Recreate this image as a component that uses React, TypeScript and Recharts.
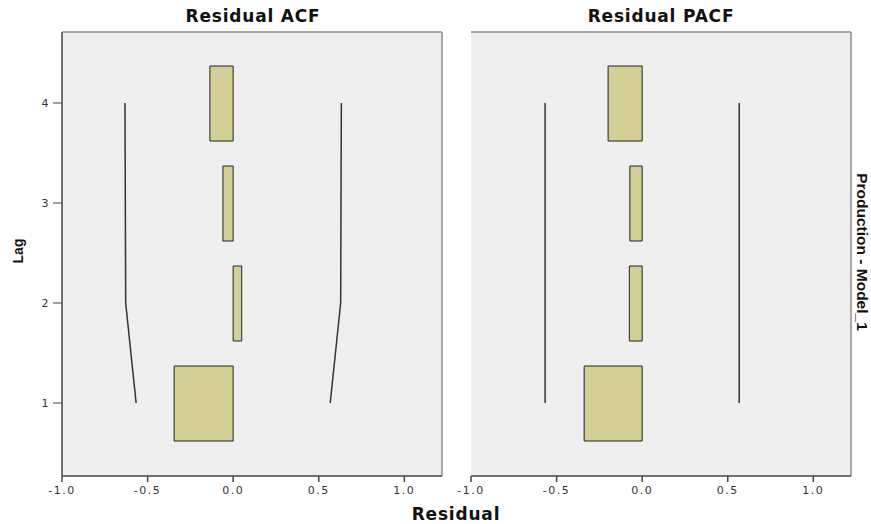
import {
  ComposedChart,
  Bar,
  Line,
  XAxis,
  YAxis,
  CartesianGrid,
  ReferenceLine,
} from 'recharts';

const lags = [1, 2, 3, 4];
const acfValues = [-0.345, 0.05, -0.06, -0.136];
const acfUpper = [0.567, 0.628, 0.63, 0.632];
const acfLower = [-0.567, -0.628, -0.63, -0.632];
const pacfValues = [-0.339, -0.075, -0.072, -0.199];
const pacfUpper = [0.567, 0.567, 0.567, 0.567];
const pacfLower = [-0.567, -0.567, -0.567, -0.567];
const xTicks = [-1, -0.5, 0, 0.5, 1];

const X_DOMAIN: [number, number] = [-1, 1.22];
const Y_DOMAIN: [number, number] = [0.27, 4.71];
const SANS = '"Liberation Sans", Arial, sans-serif';
const WIDE = '"DejaVu Sans", sans-serif';

const acfData = lags.map((lag, i) => ({ lag, value: acfValues[i], upper: acfUpper[i], lower: acfLower[i] }));
const pacfData = lags.map((lag, i) => ({ lag, value: pacfValues[i], upper: pacfUpper[i], lower: pacfLower[i] }));

const tickStyle = { fill: '#333', fontSize: 11, fontFamily: WIDE, letterSpacing: 1.5 };

function Panel({ data, showY, width, marginLeft, marginRight }: {
  data: typeof acfData;
  showY: boolean;
  width: number;
  marginLeft: number;
  marginRight: number;
}) {
  return (
    <ComposedChart
      width={width}
      height={524}
      data={data}
      layout="vertical"
      margin={{ top: 32, right: marginRight, bottom: 18, left: marginLeft }}
    >
      <CartesianGrid fill="#efefef" fillOpacity={1} horizontal={false} vertical={false} />
      <ReferenceLine y={Y_DOMAIN[1]} stroke="#8c8c8c" strokeWidth={1.5} />
      <ReferenceLine x={X_DOMAIN[1]} stroke="#8c8c8c" strokeWidth={1.5} />
      <XAxis
        type="number"
        domain={X_DOMAIN}
        ticks={xTicks}
        allowDataOverflow
        height={30}
        tickSize={6}
        tickMargin={4}
        tickFormatter={(v: number) => v.toFixed(1)}
        tick={tickStyle}
        axisLine={{ stroke: '#444', strokeWidth: 1.5 }}
        tickLine={{ stroke: '#444', strokeWidth: 1.5 }}
      />
      <YAxis
        type="number"
        dataKey="lag"
        domain={Y_DOMAIN}
        ticks={lags}
        reversed
        allowDataOverflow
        width={showY ? 62 : 0}
        tickSize={9}
        tickMargin={3}
        tick={showY ? tickStyle : false}
        axisLine={{ stroke: '#444', strokeWidth: 1.5 }}
        tickLine={showY ? { stroke: '#444', strokeWidth: 1 } : false}
      />
      <Bar dataKey="value" barSize={75} fill="#d3cf97" stroke="#222" strokeWidth={1} isAnimationActive={false} />
      <Line type="linear" dataKey="upper" stroke="#333" strokeWidth={1.5} dot={false} isAnimationActive={false} />
      <Line type="linear" dataKey="lower" stroke="#333" strokeWidth={1.5} dot={false} isAnimationActive={false} />
    </ComposedChart>
  );
}

const labelStyle: React.CSSProperties = {
  position: 'absolute',
  fontFamily: WIDE,
  fontWeight: 'bold',
  fontSize: 17,
  letterSpacing: 0.8,
  color: '#111',
  whiteSpace: 'nowrap',
  lineHeight: 1,
  transform: 'translate(-50%, -50%)',
};

export default function App() {
  return (
    <div style={{ position: 'absolute', left: 0, top: 0, width: 871, height: 524, overflow: 'hidden', background: '#fff' }}>
      <div style={{ position: 'absolute', left: 0, top: 0 }}>
        <Panel data={acfData} showY width={450} marginLeft={0} marginRight={8} />
      </div>
      <div style={{ position: 'absolute', left: 450, top: 0 }}>
        <Panel data={pacfData} showY={false} width={421} marginLeft={21} marginRight={20} />
      </div>
      <div style={{ ...labelStyle, left: 253, top: 16 }}>Residual ACF</div>
      <div style={{ ...labelStyle, left: 661, top: 16 }}>Residual PACF</div>
      <div style={{ ...labelStyle, left: 456, top: 514 }}>Residual</div>
      <div style={{ ...labelStyle, fontFamily: SANS, fontSize: 14, letterSpacing: 0, left: 18, top: 251, transform: 'translate(-50%, -50%) rotate(-90deg)' }}>
        Lag
      </div>
      <div style={{ ...labelStyle, fontFamily: SANS, fontSize: 15.5, letterSpacing: 0, left: 862, top: 252, transform: 'translate(-50%, -50%) rotate(90deg)' }}>
        Production - Model_1
      </div>
    </div>
  );
}
